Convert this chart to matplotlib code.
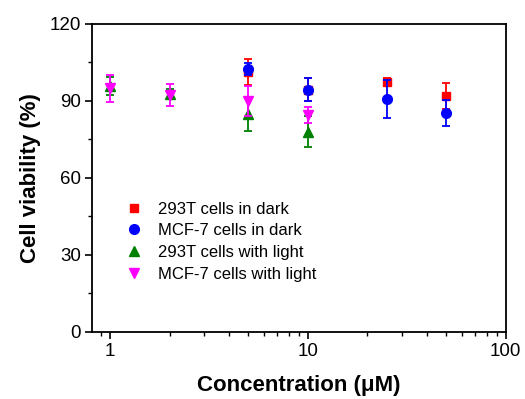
import matplotlib.pyplot as plt
from matplotlib.ticker import MultipleLocator, FixedLocator, NullFormatter

plt.rcParams["font.family"] = ["Liberation Sans", "DejaVu Sans"]

# data
conc_dark = [5, 10, 25, 50]
red_293t_dark = [101.4, 94.3, 97.5, 91.8]
red_293t_dark_err = [5.0, 4.5, 1.5, 5.0]

blue_mcf7_dark = [102.3, 94.3, 90.8, 85.3]
blue_mcf7_dark_err = [2.3, 4.5, 7.4, 5.0]

conc_light = [1, 2, 5, 10]
green_293t_light = [95.8, 92.6, 84.9, 78.0]
green_293t_light_err = [3.5, 2.0, 6.5, 6.0]

mag_mcf7_light = [94.9, 92.3, 90.0, 84.5]
mag_mcf7_light_err = [5.3, 4.3, 6.0, 3.0]

labels = ["293T cells in dark", "MCF-7 cells in dark",
          "293T cells with light", "MCF-7 cells with light"]

fig = plt.figure(figsize=(5.25, 3.99), dpi=100)
ax = fig.add_axes([0.1752, 0.168, 0.788, 0.772])

series = [
    (conc_dark, red_293t_dark, red_293t_dark_err, "red", "s", 6),
    (conc_dark, blue_mcf7_dark, blue_mcf7_dark_err, "blue", "o", 7),
    (conc_light, green_293t_light, green_293t_light_err, "green", "^", 7),
    (conc_light, mag_mcf7_light, mag_mcf7_light_err, "magenta", "v", 7),
]
handles = []
for (x, y, e, c, m, ms), lab in zip(series, labels):
    ax.errorbar(x, y, yerr=e, fmt="none", ecolor=c, elinewidth=1.3,
                capsize=3, capthick=1.3)
    h = ax.plot(x, y, linestyle="none", marker=m, color=c, markersize=ms,
                label=lab)[0]
    handles.append(h)

ax.set_xscale("log")
ax.set_xlim(0.81, 100)
ax.set_ylim(0, 120)
ax.yaxis.set_major_locator(MultipleLocator(30))
ax.yaxis.set_minor_locator(MultipleLocator(15))
ax.xaxis.set_major_locator(FixedLocator([1, 10, 100]))
ax.xaxis.set_minor_locator(FixedLocator(
    [0.9] + [k * 10 ** p for p in (0, 1) for k in range(2, 10)]))
ax.xaxis.set_minor_formatter(NullFormatter())
ax.set_xticklabels(["1", "10", "100"])

ax.tick_params(which="major", direction="out", length=5, width=1.2,
               labelsize=13.5, top=False, right=False, pad=3)
ax.tick_params(which="minor", direction="out", length=3, width=1.0,
               top=False, right=False)
for s in ax.spines.values():
    s.set_linewidth(1.3)

ax.set_xlabel("Concentration (\u03bcM)", fontsize=16, fontweight="bold",
              labelpad=11)
ax.set_ylabel("Cell viability (%)", fontsize=16, fontweight="bold",
              labelpad=6)

ax.legend(handles=handles, loc="upper left", bbox_to_anchor=(0.065, 0.445),
          frameon=False, fontsize=12, handlelength=1.0, handletextpad=0.93,
          labelspacing=0.4, borderaxespad=0)

fig.savefig("out.png", dpi=100)
